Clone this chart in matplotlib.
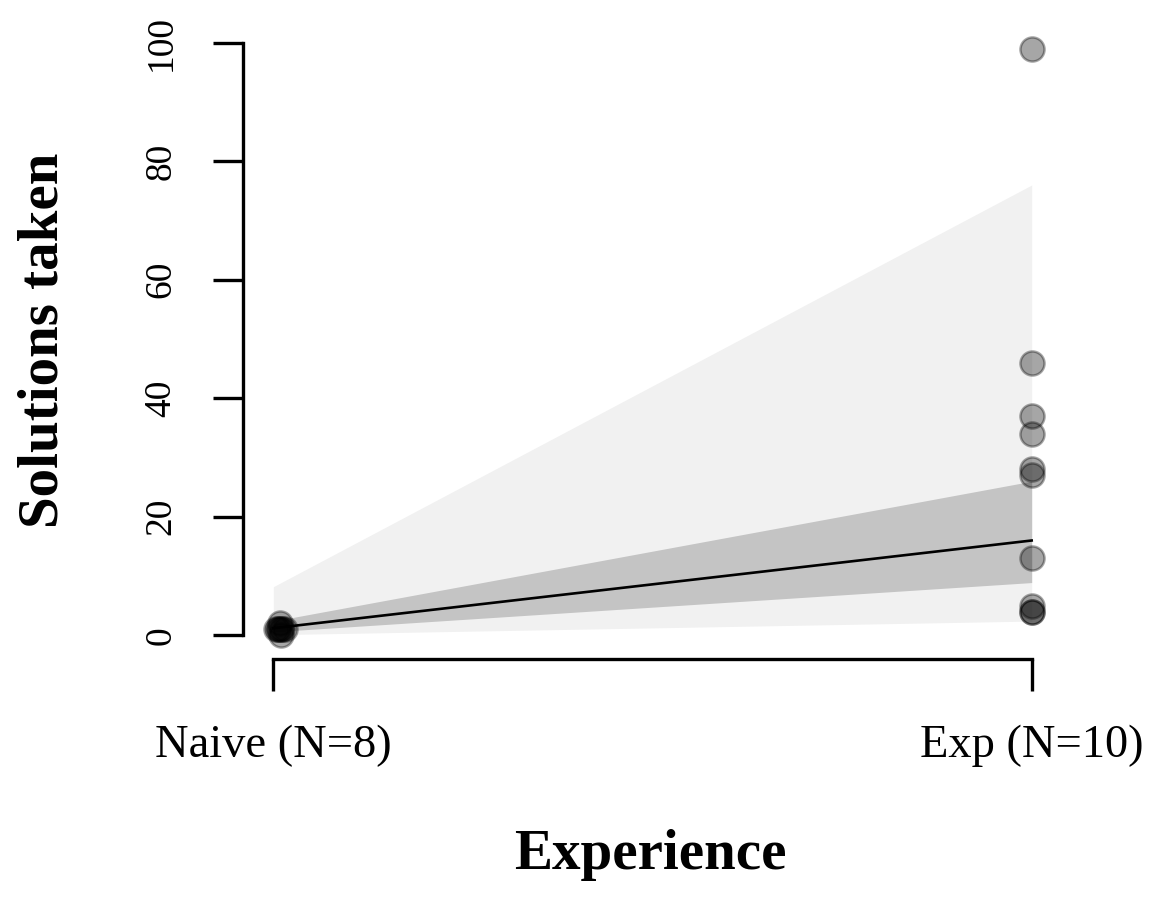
import numpy as np
import matplotlib
matplotlib.use('Agg')
import matplotlib.pyplot as plt

plt.rcParams['font.family'] = ['Liberation Serif', 'DejaVu Serif']

### Data
groups = ['Naive (N=8)', 'Exp (N=10)']
group_x = [1, 2]

# observed counts, naive group drawn with a little horizontal jitter
naive_vals = [1, 1, 1, 2, 1, 0, 1, 1]
naive_jit = [0.004, 0.008, 0.012, 0.009, 0.006, 0.010, 0.016, 0.010]
exp_vals = [99, 46, 37, 34, 28, 27, 13, 5, 4, 4]

# model fit and intervals at each group
fit = [1.2, 16.0]
ci_lo = [0.6, 8.9]
ci_hi = [2.4, 26.0]
pi_lo = [0.1, 2.4]
pi_hi = [8.2, 76.0]

yticks = [0, 20, 40, 60, 80, 100]

### Figure
fig = plt.figure(figsize=(11.52, 8.97), dpi=100)
ax = fig.add_axes([243 / 1152, 1 - 659 / 897, 819 / 1152, 634 / 897])

ax.fill_between(group_x, pi_lo, pi_hi, color='#f1f1f1', linewidth=0)
ax.fill_between(group_x, ci_lo, ci_hi, color='#c4c4c4', linewidth=0)

pt = (0, 0, 0, 0.35)
ax.scatter(np.array(group_x[0]) + np.array(naive_jit), naive_vals, s=300,
           facecolor=pt, edgecolor=pt, linewidth=1.8, zorder=3)
ax.scatter([group_x[1]] * len(exp_vals), exp_vals, s=300,
           facecolor=pt, edgecolor=pt, linewidth=1.8, zorder=3)

ax.plot(group_x, fit, color='black', linewidth=1.9, zorder=4)

ax.set_xlim(0.96, 2.04)
ax.set_ylim(-4, 103)

for s in ['top', 'right']:
    ax.spines[s].set_visible(False)
ax.spines['left'].set_bounds(0, 100)
ax.spines['bottom'].set_bounds(1, 2)
ax.spines['left'].set_linewidth(2.4)
ax.spines['bottom'].set_linewidth(2.4)

ax.set_yticks(yticks)
ax.set_yticklabels([str(v) for v in yticks], rotation=90, va='center', fontsize=27)
ax.set_xticks(group_x)
ax.set_xticklabels(groups, fontsize=33.5)
ax.tick_params(axis='y', length=21.6, width=2.4, pad=25)
ax.tick_params(axis='x', length=23, width=2.4, pad=24)

fig.text(650 / 1152, 1 - 855 / 897, 'Experience', fontsize=41, fontweight='bold',
         ha='center', va='center')
fig.text(44 / 1152, 1 - 340 / 897, 'Solutions taken', fontsize=41, fontweight='bold',
         rotation=90, ha='center', va='center')

fig.savefig('out.png', dpi=100)
